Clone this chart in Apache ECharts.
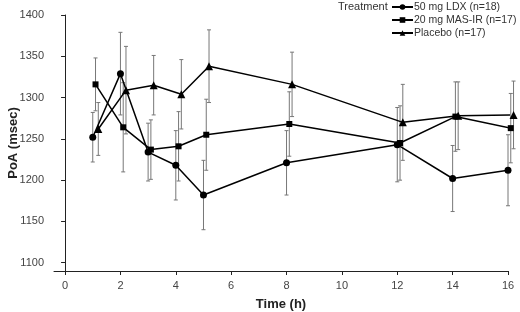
<!DOCTYPE html>
<html>
<head>
<meta charset="utf-8">
<script src="https://cdn.jsdelivr.net/npm/echarts@6/dist/echarts.min.js"></script>
<style>
  html, body { margin: 0; padding: 0; background: #fff; }
  #chart { width: 520px; height: 312px; }
</style>
</head>
<body>
<div id="chart"></div>
<script>
// time points (h)
var hours = [1, 2, 3, 4, 5, 8, 12, 14, 16];
var xTicks = [0, 2, 4, 6, 8, 10, 12, 14, 16];
var yTicks = [1100, 1150, 1200, 1250, 1300, 1350, 1400];

// mean PoA (msec) and error bar half-widths
var ldxMean = [1252, 1329, 1234, 1218, 1182, 1221, 1243, 1202, 1212];
var ldxErr = [30, 50, 35, 42, 42, 39, 45, 40, 43];
var masMean = [1316, 1264, 1237, 1241, 1255, 1268, 1245, 1277, 1263];
var masErr = [32, 54, 36, 42, 43, 39, 45, 42, 42];
var plaMean = [1262, 1309, 1315, 1304, 1338, 1316, 1270, 1278, 1279];
var plaErr = [32, 53, 36, 42, 44, 39, 46, 41, 41];

var groups = [
    { name: '50 mg LDX (n=18)', mean: ldxMean, err: ldxErr, symbol: 'circle', size: 7, dodge: 0 },
    { name: '20 mg MAS-IR (n=17)', mean: masMean, err: masErr, symbol: 'rect', size: 6, dodge: 0.1 },
    { name: 'Placebo (n=17)', mean: plaMean, err: plaErr, symbol: 'triangle', size: 8, dodge: 0.2 }
];

var font = 'Liberation Sans, Arial, Helvetica, sans-serif';
var myChart = echarts.init(document.getElementById('chart'));

var series = [];
groups.forEach(function (g) {
    // error bars
    series.push({
        type: 'custom',
        name: g.name + ' err',
        clip: false,
        silent: true,
        z: 1,
        data: hours.map(function (h, i) { return [h + g.dodge, g.mean[i] - g.err[i], g.mean[i] + g.err[i]]; }),
        renderItem: function (params, api) {
            var lo = api.coord([api.value(0), api.value(1)]);
            var hi = api.coord([api.value(0), api.value(2)]);
            var cap = 2;
            var st = { stroke: '#777', lineWidth: 1 };
            return {
                type: 'group',
                children: [
                    { type: 'line', shape: { x1: lo[0], y1: lo[1], x2: hi[0], y2: hi[1] }, style: st },
                    { type: 'line', shape: { x1: lo[0] - cap, y1: lo[1], x2: lo[0] + cap, y2: lo[1] }, style: st },
                    { type: 'line', shape: { x1: hi[0] - cap, y1: hi[1], x2: hi[0] + cap, y2: hi[1] }, style: st }
                ]
            };
        }
    });
    series.push({
        type: 'line',
        name: g.name,
        clip: false,
        z: 3,
        symbol: g.symbol,
        symbolSize: g.size,
        lineStyle: { color: '#000', width: 1.5 },
        itemStyle: { color: '#000' },
        data: hours.map(function (h, i) { return [h + g.dodge, g.mean[i]]; })
    });
});

myChart.setOption({
    animation: false,
    textStyle: { fontFamily: font },
    grid: { left: 54, right: 12, top: 15, bottom: 41, outerBoundsMode: 'none', containLabel: false },
    graphic: [{
        type: 'text', left: 338, top: 1,
        style: { text: 'Treatment', fontSize: 11, fontFamily: font, fill: '#333' }
    }],
    legend: {
        orient: 'vertical',
        left: 391,
        top: 1,
        padding: 0,
        itemWidth: 21,
        itemHeight: 7,
        itemGap: 1,
        textStyle: { fontSize: 10.5, lineHeight: 12, color: '#333', fontFamily: font, padding: [0, 0, 0, -4] },
        data: groups.map(function (g) { return g.name; })
    },
    xAxis: {
        type: 'value',
        min: -0.4,
        max: 16,
        name: 'Time (h)',
        nameLocation: 'middle',
        nameGap: 27,
        nameMoveOverlap: false,
        nameTextStyle: { fontSize: 13, fontWeight: 'bold', color: '#222', fontFamily: font },
        axisLine: { onZero: false, lineStyle: { color: '#222', width: 1 } },
        axisTick: { customValues: xTicks, length: 4, lineStyle: { color: '#222' } },
        axisLabel: { customValues: xTicks, fontSize: 11, color: '#444', margin: 9 },
        splitLine: { show: false }
    },
    yAxis: {
        type: 'value',
        min: 1090,
        max: 1400,
        name: 'PoA (msec)',
        nameLocation: 'middle',
        nameGap: 34,
        nameMoveOverlap: false,
        nameTextStyle: { fontSize: 13, fontWeight: 'bold', color: '#222', fontFamily: font },
        axisLine: { show: true, lineStyle: { color: '#222', width: 1 } },
        axisTick: { show: true, customValues: yTicks, length: 4, lineStyle: { color: '#222' } },
        axisLabel: {
            customValues: yTicks, fontSize: 11, color: '#444', margin: 10,
            formatter: function (v) { return String(v); }
        },
        splitLine: { show: false }
    },
    series: series
});
window.onresize = myChart.resize;
</script>
</body>
</html>
